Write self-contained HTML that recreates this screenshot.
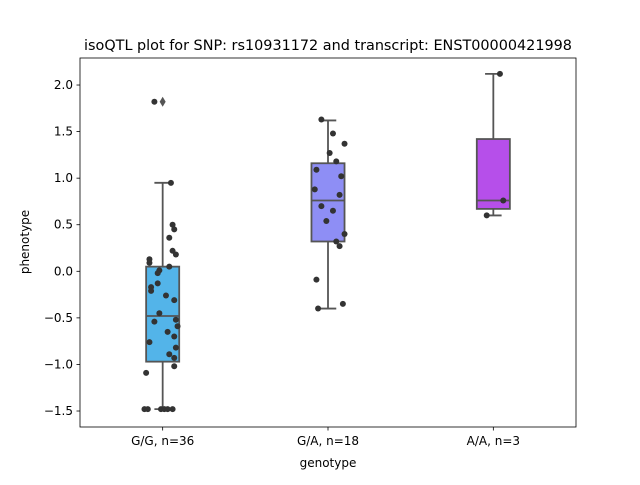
<!DOCTYPE html>
<html><head><meta charset="utf-8"><style>
body{margin:0;background:#fff;font-family:"Liberation Sans","DejaVu Sans",sans-serif}
svg text{font-family:"DejaVu Sans","Liberation Sans",sans-serif}
</style></head><body>
<svg id="chart" width="640" height="480" xmlns="http://www.w3.org/2000/svg">
<rect width="640" height="480" fill="#fff"/>
<text x="328" y="50" text-anchor="middle" font-size="14.4">isoQTL plot for SNP: rs10931172 and transcript: ENST00000421998</text>
<g id="plot"></g>
<rect x="80" y="58" width="496" height="369" fill="none" stroke="#000" stroke-width="0.8"/>
<text x="328" y="467" text-anchor="middle" font-size="12">genotype</text>
<text transform="translate(29,242) rotate(-90)" text-anchor="middle" font-size="12">phenotype</text>
</svg>
<script>
const categories=["G/G, n=36","G/A, n=18","A/A, n=3"];
const colors=["#53b4e9","#8e8ef5","#b64fea"];
const q1=[-0.97,0.32,0.67];
const med=[-0.48,0.76,0.76];
const q3=[0.05,1.16,1.42];
const whLo=[-1.48,-0.40,0.60];
const whHi=[0.95,1.62,2.12];
const outliers=[[1.82],[],[]];
const yTicks=[-1.5,-1.0,-0.5,0.0,0.5,1.0,1.5,2.0];
const yTickLabels=["−1.5","−1.0","−0.5","0.0","0.5","1.0","1.5","2.0"];
const ggVals=[1.82,0.95,0.50,0.45,0.36,0.22,0.18,0.09,0.13,0.05,0.01,-0.02,-0.17,-0.21,-0.13,-0.26,-0.31,-0.45,-0.52,-0.59,-0.54,-0.65,-0.70,-0.82,-0.76,-0.89,-0.93,-1.02,-1.09,-1.48,-1.48,-1.48,-1.48,-1.48,-1.48];
const ggJit=[-0.05,0.05,0.06,0.07,0.04,0.06,0.08,-0.08,-0.08,0.04,-0.02,-0.03,-0.07,-0.07,-0.03,0.02,0.07,-0.02,0.08,0.09,-0.05,0.03,0.07,0.08,-0.08,0.04,0.07,0.07,-0.1,-0.11,-0.09,-0.01,0.01,0.03,0.06];
const gaVals=[1.63,1.48,1.37,1.27,1.18,1.09,1.02,0.88,0.82,0.70,0.65,0.54,0.40,0.32,0.27,-0.09,-0.40,-0.35];
const gaJit=[-0.04,0.03,0.1,0.01,0.05,-0.07,0.08,-0.08,0.07,-0.04,0.03,-0.01,0.1,0.05,0.07,-0.07,-0.06,0.09];
const aaVals=[2.12,0.76,0.60];
const aaJit=[0.04,0.06,-0.04];
const points=[ggVals,gaVals,aaVals], jit=[ggJit,gaJit,aaJit];
const X0=80,X1=576,Y0=58,Y1=427;
const xs=i=>X0+(X1-X0)*(i+0.5)/categories.length;
const ys=v=>271.3-93.14*v;
const bandW=(X1-X0)/categories.length;
const NS="http://www.w3.org/2000/svg",g=document.getElementById('plot');
function mk(t,a){const e=document.createElementNS(NS,t);for(const k in a)e.setAttribute(k,a[k]);g.appendChild(e);return e;}
yTicks.forEach((v,i)=>{
 const t=mk('line',{x1:X0-3.5,x2:X0,y1:ys(v),y2:ys(v),stroke:'#000','stroke-width':0.8});
 
 
 const l=mk('text',{x:X0-7,y:ys(v)+4,'text-anchor':'end','font-size':12});
 l.textContent=yTickLabels[i];
 
 
});
categories.forEach((c,i)=>{
 const cx=xs(i),w=bandW*0.2,s='#555';
 const t=mk('line',{x1:cx,x2:cx,y1:Y1,y2:Y1+3.5,stroke:'#000','stroke-width':0.8});
 
 
 const l=mk('text',{x:cx,y:Y1+18,'text-anchor':'middle','font-size':12});
 l.textContent=c;
 
 
 const wl=mk('line',{x1:cx,x2:cx,y1:ys(whHi[i]),y2:ys(q3[i]),stroke:s,'stroke-width':1.8});
 
 
 const wl2=mk('line',{x1:cx,x2:cx,y1:ys(q1[i]),y2:ys(whLo[i]),stroke:s,'stroke-width':1.8});
 
 
 [whHi[i],whLo[i]].forEach(v=>{
  const cap=mk('line',{x1:cx-w/4,x2:cx+w/4,y1:ys(v),y2:ys(v),stroke:s,'stroke-width':1.8});
  
  
 });
 const b=mk('rect',{x:cx-w/2,y:ys(q3[i]),width:w,height:ys(q1[i])-ys(q3[i]),fill:colors[i],stroke:s,'stroke-width':1.8});
 
 
 const m=mk('line',{x1:cx-w/2,x2:cx+w/2,y1:ys(med[i]),y2:ys(med[i]),stroke:s,'stroke-width':1.8});
 
 
 outliers[i].forEach(v=>{
  const y=ys(v);
  const o=mk('polygon',{points:`${cx},${y-5} ${cx+3},${y} ${cx},${y+5} ${cx-3},${y}`,fill:'#555'});
  
  
 });
 points[i].forEach((v,j)=>{
  const p=mk('circle',{cx:cx+jit[i][j]*bandW,cy:ys(v),r:3,fill:'#333'});
  
  
 });
});
</script>
</body></html>
